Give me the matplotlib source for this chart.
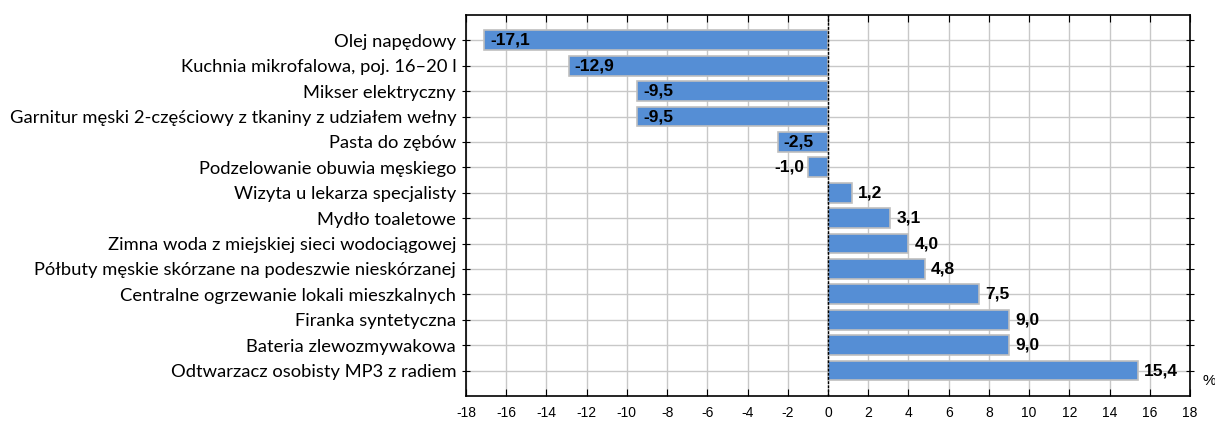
import matplotlib.pyplot as plt
import numpy as np

categories = ['Olej napędowy', 'Kuchnia mikrofalowa, poj. 16–20 l', 'Mikser elektryczny',
              'Garnitur męski 2-częściowy z tkaniny z udziałem wełny', 'Pasta do zębów',
              'Podzelowanie obuwia męskiego', 'Wizyta u lekarza specjalisty', 'Mydło toaletowe',
              'Zimna woda z miejskiej sieci wodociągowej',
              'Półbuty męskie skórzane na podeszwie nieskórzanej',
              'Centralne ogrzewanie lokali mieszkalnych', 'Firanka syntetyczna',
              'Bateria zlewozmywakowa', 'Odtwarzacz osobisty MP3 z radiem']
values = [-17.1, -12.9, -9.5, -9.5, -2.5, -1.0, 1.2, 3.1, 4.0, 4.8, 7.5, 9.0, 9.0, 15.4]
ticks = np.arange(-18, 19, 2)

fig = plt.figure(figsize=(12.15, 4.21), dpi=100)
ax = fig.add_axes([0.3835, 0.0594, 0.596, 0.905])

y = np.arange(len(categories))
ax.barh(y, values, height=0.78, color='#558ED5', edgecolor='#BFBFBF', linewidth=1.2, zorder=3)
ax.set_xlim(-18, 18)
ax.set_ylim(len(categories), -1)
ax.set_xticks(ticks)
ax.set_xticklabels([str(t) for t in ticks], fontsize=10, family='Liberation Sans')
ax.set_yticks(y)
ax.set_yticklabels(categories, fontsize=13.2, family='Lato')
ax.grid(True, color='#C8C8C8', linewidth=1, zorder=0)
ax.axvline(0, color='black', linewidth=1, linestyle=(0, (2, 1)), zorder=4)
ax.tick_params(axis='x', direction='in', length=5, top=True, pad=7)
ax.tick_params(axis='y', direction='inout', length=6, pad=4)
ax.tick_params(axis='y', right=True)
for s in ax.spines.values():
    s.set_linewidth(1.2)

for yi, v in zip(y, values):
    txt = f'{v:.1f}'.replace('.', ',')
    if v < -1.5:
        ax.text(v + 0.3, yi, txt, ha='left', va='center', fontsize=12.5, fontweight='bold',
                family='Liberation Sans', zorder=5)
    elif v < 0:
        ax.text(v - 0.2, yi, txt, ha='right', va='center', fontsize=12.5, fontweight='bold',
                family='Liberation Sans', zorder=5)
    else:
        ax.text(v + 0.3, yi, txt, ha='left', va='center', fontsize=12.5, fontweight='bold',
                family='Liberation Sans', zorder=5)

fig.text(0.99, 0.085, '%', fontsize=11, family='Liberation Sans')

plt.savefig('out.png')
